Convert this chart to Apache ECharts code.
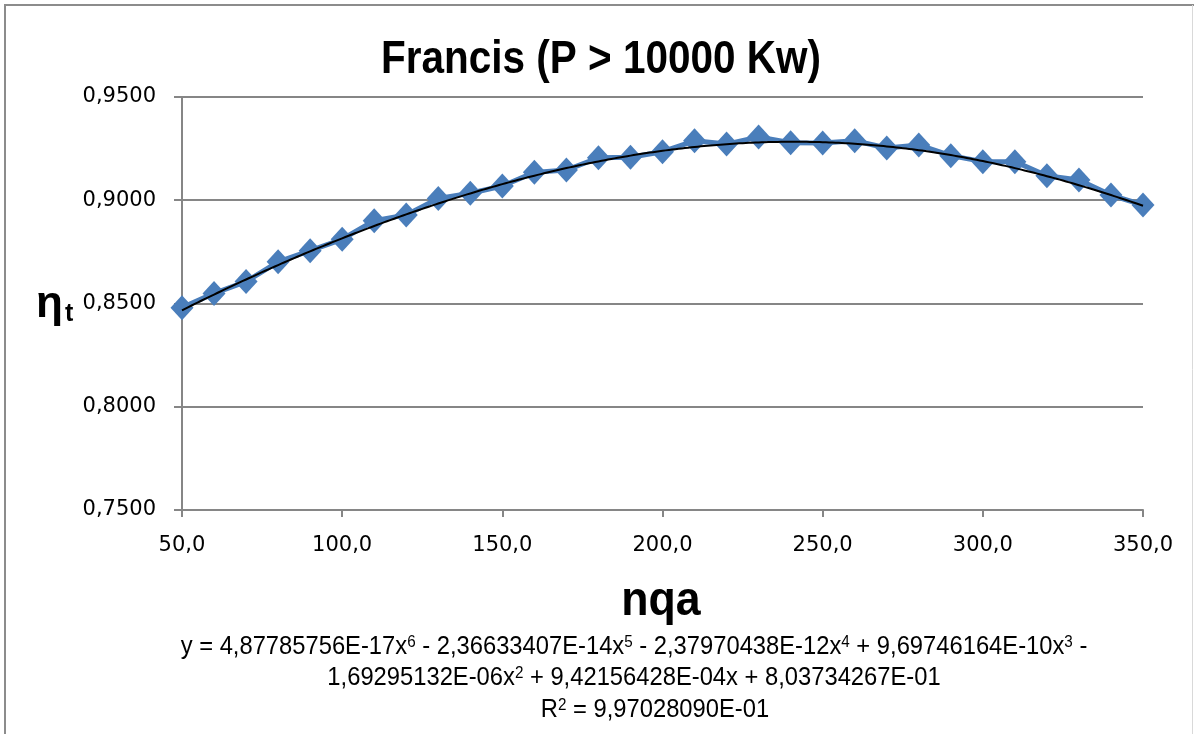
<!DOCTYPE html>
<html>
<head>
<meta charset="utf-8">
<script src="https://cdn.jsdelivr.net/npm/echarts@6/dist/echarts.min.js"></script>
<style>
html,body{margin:0;padding:0;background:#fff;}
#chart{width:1194px;height:734px;}
</style>
</head>
<body>
<div id="chart"></div>
<script>
var titleText = 'Francis (P > 10000 Kw)';
var xAxisTitle = 'nqa';
var nqa = [50,60,70,80,90,100,110,120,130,140,150,160,170,180,190,200,210,220,230,240,250,260,270,280,290,300,310,320,330,340,350];
var eta = [0.8480,0.8549,0.8606,0.8702,0.8756,0.8811,0.8901,0.8929,0.9009,0.9034,0.9069,0.9135,0.9146,0.9206,0.9208,0.9235,0.9288,0.9272,0.9306,0.9279,0.9277,0.9288,0.9253,0.9268,0.9216,0.9187,0.9187,0.9119,0.9098,0.9025,0.8977];
// trendline coefficients as printed in the chart (degree 6 ... 0)
var trendCoefficients = [4.87785756E-17,-2.36633407E-14,-2.37970438E-12,9.69746164E-10,-1.69295132E-06,9.42156428E-04,8.03734267E-01];
var eqLines = [
  'y = 4,87785756E-17x{s|6} - 2,36633407E-14x{s|5} - 2,37970438E-12x{s|4} + 9,69746164E-10x{s|3} -',
  '1,69295132E-06x{s|2} + 9,42156428E-04x + 8,03734267E-01',
  'R{s|2} = 9,97028090E-01'
];

function evalPoly(c, x){var y=0;for(var i=0;i<c.length;i++){y=y*x+c[i];}return y;}
var trend = [];
for (var x = 50; x <= 350; x += 2) { trend.push([x, evalPoly(trendCoefficients, x)]); }

var pts = nqa.map(function(v,i){return [v, eta[i]];});
var txtFont = '"Liberation Sans",Arial,sans-serif';
var tickFont = '"DejaVu Sans",sans-serif';

var eqYs = [647, 678, 710];
var eqXs = [634, 634, 655];
var eqGraphics = eqLines.map(function(t, i){
  return {type:'text', x:eqXs[i], y:eqYs[i], scaleX:0.95, style:{
    text:t, align:'center', verticalAlign:'middle', fontFamily:txtFont, fontSize:25, fill:'#000',
    rich:{s:{fontFamily:txtFont,fontSize:16,fill:'#000',verticalAlign:'top'}}}};
});

var chart = echarts.init(document.getElementById('chart'), null, {renderer:'canvas'});
chart.setOption({
  backgroundColor:'#fff',
  animation:false,
  grid:{left:182,right:51,top:97,bottom:224,containLabel:false},
  xAxis:{type:'value',min:50,max:350,interval:50,
    axisLine:{show:true,lineStyle:{color:'#868686',width:2}},
    axisTick:{show:true,length:7,lineStyle:{color:'#868686',width:2}},
    splitLine:{show:false},
    axisLabel:{margin:25,fontFamily:tickFont,fontSize:21,color:'#000',
      formatter:function(v){return v.toFixed(1).replace('.',',');}}},
  yAxis:{type:'value',min:0.75,max:0.95,interval:0.05,
    axisLine:{show:true,lineStyle:{color:'#868686',width:2}},
    axisTick:{show:true,length:8,lineStyle:{color:'#868686',width:2}},
    splitLine:{show:true,lineStyle:{color:'#868686',width:2}},
    axisLabel:{margin:26,fontFamily:tickFont,fontSize:21,color:'#000',
      formatter:function(v){return v.toFixed(4).replace('.',',');}}},
  series:[
    {type:'line',data:pts,symbol:'diamond',symbolSize:[23,25],
      lineStyle:{color:'#4a7ebb',width:5},itemStyle:{color:'#4a7ebb'},z:2},
    {type:'line',data:trend,symbol:'none',smooth:true,
      lineStyle:{color:'#000',width:2},z:3}
  ],
  graphic:[
    {type:'polyline',shape:{points:[[5,740],[5,5],[1194,5]]},style:{fill:'none',stroke:'#8c8c8c',lineWidth:2},silent:true},
    {type:'line',shape:{x1:1192.5,y1:5,x2:1192.5,y2:734},style:{stroke:'#d9d9d9',lineWidth:1},silent:true},
    {type:'text',x:601,y:60,scaleX:0.88,style:{text:titleText,align:'center',verticalAlign:'middle',
      fontFamily:txtFont,fontWeight:'bold',fontSize:46,fill:'#000'}},
    {type:'text',x:661,y:602,scaleX:0.93,style:{text:xAxisTitle,align:'center',verticalAlign:'middle',
      fontFamily:txtFont,fontWeight:'bold',fontSize:48,fill:'#000'}},
    {type:'text',left:36,top:283,style:{
      text:'{a|η}{b|t}',
      rich:{a:{fontFamily:txtFont,fontWeight:'bold',fontSize:44,fill:'#000',verticalAlign:'bottom'},
            b:{fontFamily:txtFont,fontWeight:'bold',fontSize:25,fill:'#000',verticalAlign:'bottom',padding:[0,0,0,2]}}}}
  ].concat(eqGraphics)
});
</script>
</body>
</html>
